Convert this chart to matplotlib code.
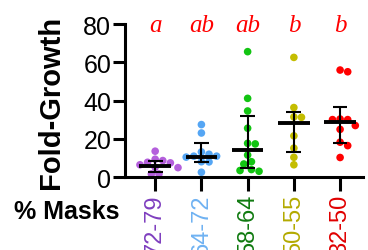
import matplotlib
matplotlib.use("Agg")
import matplotlib.pyplot as plt
import numpy as np

plt.rcParams['font.family'] = ['Liberation Sans', 'DejaVu Sans']

groups = ['72-79', '64-72', '58-64', '50-55', '32-50']
letters = ['a', 'ab', 'ab', 'b', 'b']

purple = [13.6, 9.4, 8.7, 7.8, 7.5, 6.5, 5.2, 5.0, 1.7, 1.7]
blue = [27.5, 23.1, 13.2, 12.0, 11.0, 11.0, 10.5, 8.1, 8.0, 2.6]
green = [65.6, 41.2, 34.6, 25.6, 17.7, 17.4, 11.6, 8.1, 6.9, 4.0, 3.5, 3.1]
olive = [62.6, 36.4, 31.5, 31.3, 21.6, 15.2, 10.4, 6.5]
red = [56.0, 55.1, 30.4, 30.1, 30.1, 27.0, 25.0, 18.3, 16.5, 10.3]
values = [purple, blue, green, olive, red]

centers = [5.7, 10.8, 14.4, 28.2, 28.7]
upper = [8.3, 17.7, 32.2, 33.9, 36.5]
lower = [2.8, 8.1, 5.0, 13.0, 17.9]

dot_colors = ['#b45fdc', '#55a6f4', '#12c412', '#c4bd00', '#ff0000']
label_colors = ['#7f3fbf', '#6fb2f2', '#107a10', '#b3aa00', '#e00000']

fig = plt.figure(figsize=(3.68, 2.51), dpi=100)
ax = fig.add_axes([0.340, 0.290, 0.647, 0.610])
ax.set_xlim(-0.65, 4.5)
ax.set_ylim(0, 80)

# rough pixel scales for the swarm layout
px_x = 46.2   # px per group unit
px_y = 1.916  # px per y unit
dot = 7.6     # dot diameter in px


def swarm(vals):
    order = np.argsort(vals)[::-1]
    placed = []
    xs = np.zeros(len(vals))
    cands = [0]
    for k in range(1, 8):
        cands += [k * dot / 2, -k * dot / 2]
    for i in order:
        y = vals[i] * px_y
        for c in cands:
            if all((c - px) ** 2 + (y - py) ** 2 >= (dot * 0.98) ** 2 for px, py in placed):
                xs[i] = c
                placed.append((c, y))
                break
    return xs / px_x


for i, vals in enumerate(values):
    off = swarm(vals)
    ax.scatter(i + off, vals, s=30, color=dot_colors[i], edgecolors='none',
               zorder=2, clip_on=False)
    ax.hlines(centers[i], i - 0.34, i + 0.34, color='black', lw=2.8, zorder=3)
    ax.vlines(i, lower[i], upper[i], color='black', lw=1.5, zorder=3)
    ax.hlines([lower[i], upper[i]], i - 0.16, i + 0.16, color='black', lw=1.5, zorder=3)
    ax.text(i, 76.5, letters[i], color='red', fontsize=18, style='italic',
            family='Liberation Serif', ha='center', va='baseline')

for s in ['top', 'right']:
    ax.spines[s].set_visible(False)
for s in ['left', 'bottom']:
    ax.spines[s].set_linewidth(2.2)

ax.set_yticks([0, 20, 40, 60, 80])
ax.tick_params(axis='y', labelsize=18, width=2.2, length=9, pad=1)
ax.set_xticks(range(len(groups)))
ax.set_xticklabels(groups, rotation=90, fontsize=17)
ax.tick_params(axis='x', width=2.2, length=10, pad=2)
for t, c in zip(ax.get_xticklabels(), label_colors):
    t.set_color(c)

fig.text(0.138, 0.59, 'Fold-Growth', rotation=90, fontsize=21, fontweight='bold',
         ha='center', va='center')
fig.text(0.182, 0.155, '% Masks', fontsize=18, fontweight='bold',
         ha='center', va='center')

fig.savefig('out.png', dpi=100)
